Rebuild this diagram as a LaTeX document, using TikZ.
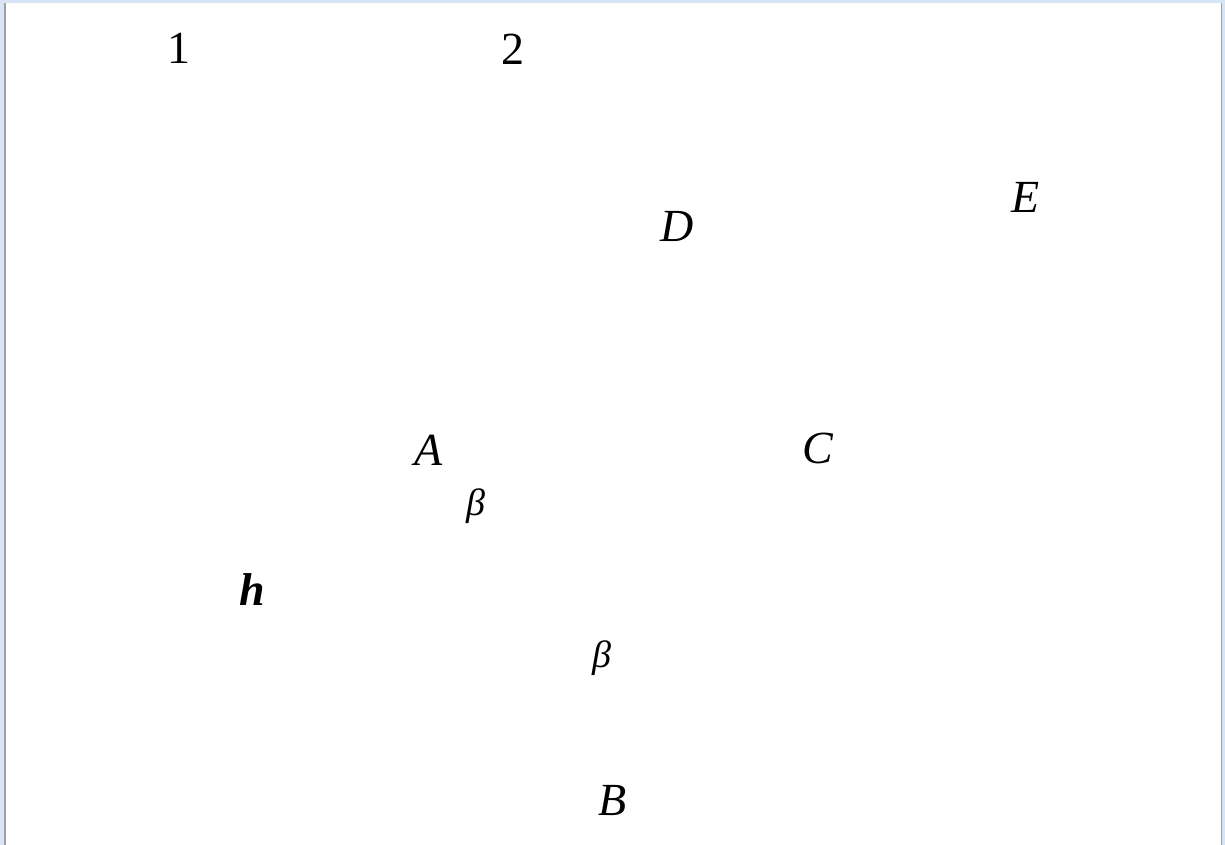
\documentclass[tikz,border=0pt]{standalone}
\usepackage{fontspec}
\setmainfont{Liberation Serif}
\definecolor{framebl}{RGB}{214,228,245}
\definecolor{framegr}{RGB}{160,160,160}
\tikzset{
  num/.style={anchor=base, inner sep=0pt, font=\fontsize{46}{50}\selectfont},
  pt/.style={anchor=base, inner sep=0pt, font=\fontsize{46}{50}\selectfont\itshape},
  ang/.style={anchor=base, inner sep=0pt, font=\fontsize{38}{42}\selectfont\itshape}
}

\begin{document}
\begin{tikzpicture}[x=1pt, y=-1pt]
    \useasboundingbox (0,0) rectangle (1225,845);
    % window frame
    \fill[white] (0,0) rectangle (1225,845);
    \fill[framebl] (0,0) rectangle (1225,3);
    \fill[framebl] (0,0) rectangle (4,845);
    \fill[framebl] (1222,0) rectangle (1225,845);
    \fill[framegr] (4,3) rectangle (5.5,845);
    \fill[framegr] (1220.5,3) rectangle (1222,845);
    % labels
    \node[num] (one) at (179, 64) {1};
    \node[num] (two) at (513, 65) {2};
    \node[pt] (D) at (677, 241) {D};
    \node[pt] (E) at (1026, 212) {E};
    \node[pt] (A) at (429, 465) {A};
    \node[pt] (C) at (818, 463) {C};
    \node[pt] (B) at (613, 815) {B};
    \node[pt, font=\fontsize{46}{50}\selectfont\bfseries\itshape] (h) at (252, 605) {h};
    \node[ang] (betaA) at (476, 515) {β};
    \node[ang] (betaB) at (602, 667) {β};
  \end{tikzpicture}
\end{document}
